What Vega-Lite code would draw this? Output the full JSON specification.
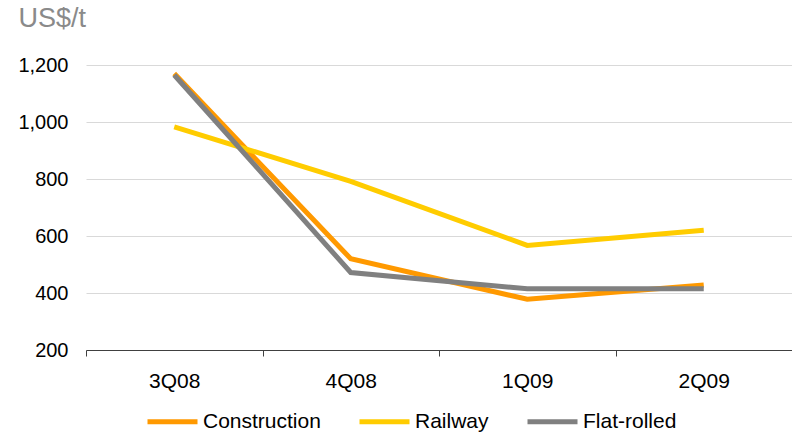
{
  "$schema": "https://vega.github.io/schema/vega-lite/v6.json",
  "width": 706,
  "height": 285,
  "autosize": {"type": "none"},
  "padding": {"left": 86, "top": 65, "right": 0, "bottom": 82},
  "background": "white",
  "config": {"view": {"stroke": null}, "font": "Liberation Sans"},
  "data": {
    "values": [
      {"quarter": "3Q08", "series": "Construction", "price": 1170},
      {"quarter": "4Q08", "series": "Construction", "price": 520},
      {"quarter": "1Q09", "series": "Construction", "price": 378},
      {"quarter": "2Q09", "series": "Construction", "price": 428},
      {"quarter": "3Q08", "series": "Railway", "price": 983},
      {"quarter": "4Q08", "series": "Railway", "price": 792},
      {"quarter": "1Q09", "series": "Railway", "price": 567},
      {"quarter": "2Q09", "series": "Railway", "price": 620},
      {"quarter": "3Q08", "series": "Flat-rolled", "price": 1165},
      {"quarter": "4Q08", "series": "Flat-rolled", "price": 472},
      {"quarter": "1Q09", "series": "Flat-rolled", "price": 415},
      {"quarter": "2Q09", "series": "Flat-rolled", "price": 415}
    ]
  },
  "mark": {"type": "line", "strokeWidth": 5, "strokeCap": "butt", "strokeJoin": "miter"},
  "encoding": {
    "x": {
      "field": "quarter",
      "type": "nominal",
      "sort": ["3Q08", "4Q08", "1Q09", "2Q09"],
      "scale": {"type": "band", "paddingInner": 0, "paddingOuter": 0},
      "bandPosition": 0.5,
      "axis": {
        "title": null,
        "tickBand": "extent",
        "labelAngle": 0,
        "labelFontSize": 21,
        "labelColor": "black",
        "labelPadding": 14,
        "domainColor": "#404040",
        "tickColor": "#404040",
        "tickSize": 6,
        "grid": false
      }
    },
    "y": {
      "field": "price",
      "type": "quantitative",
      "scale": {"domain": [200, 1200], "nice": false, "zero": false},
      "axis": {
        "values": [200, 400, 600, 800, 1000, 1200],
        "format": ",d",
        "domain": false,
        "ticks": false,
        "labelPadding": 18,
        "labelFontSize": 20,
        "labelColor": "black",
        "gridColor": "#d9d9d9",
        "title": "US$/t",
        "titleAngle": 0,
        "titleAlign": "left",
        "titleBaseline": "alphabetic",
        "titleX": -68,
        "titleY": -39,
        "titleFontSize": 27,
        "titleFontWeight": "normal",
        "titleColor": "#8a8a8a"
      }
    },
    "color": {
      "field": "series",
      "type": "nominal",
      "scale": {"domain": ["Construction", "Railway", "Flat-rolled"], "range": ["#FF9900", "#FFCC00", "#808080"]},
      "legend": {
        "title": null,
        "orient": "none",
        "legendX": 59,
        "legendY": 329,
        "direction": "horizontal",
        "symbolType": "stroke",
        "symbolSize": 2500,
        "symbolStrokeWidth": 5,
        "labelFontSize": 21,
        "labelColor": "black",
        "labelOffset": 3,
        "columnPadding": 28,
        "padding": 0
      }
    }
  }
}
